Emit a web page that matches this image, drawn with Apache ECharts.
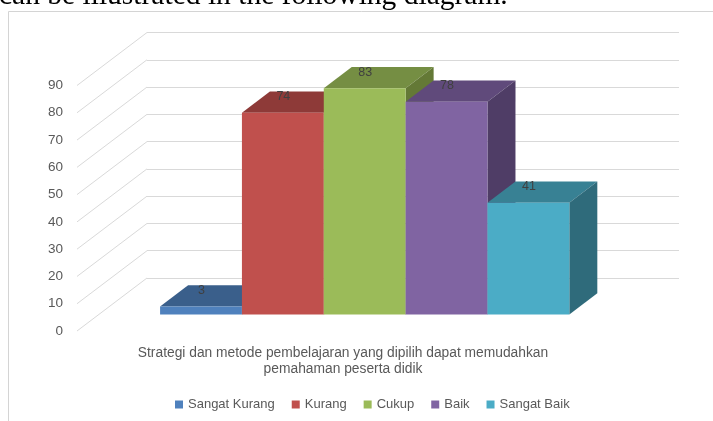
<!DOCTYPE html>
<html><head><meta charset="utf-8">
<script src="https://cdn.jsdelivr.net/npm/echarts@6/dist/echarts.min.js"></script>
<style>html,body{margin:0;padding:0;background:#fff;overflow:hidden}#c{width:713px;height:421px}</style>
</head><body><div id="c"></div>
<script>
const categories = ['Strategi dan metode pembelajaran yang dipilih dapat memudahkan\npemahaman peserta didik'];
const seriesNames = ['Sangat Kurang', 'Kurang', 'Cukup', 'Baik', 'Sangat Baik'];
const seriesValues = [3, 74, 83, 78, 41];
const yTicks = [0, 10, 20, 30, 40, 50, 60, 70, 80, 90];
const headingText = 'can be illustrated in the following diagram.';

const frontColors = ['#4F81BD', '#C0504D', '#9BBB59', '#8064A2', '#4BACC6'];
const topColors = ['#3A5F8B', '#8E3A38', '#758E43', '#604A7B', '#388194'];
const sideColors = ['#2F4E72', '#743030', '#647936', '#4F3D66', '#2F6B7B'];

const WALL_DX = 70, WALL_DY = 53;
const BAR_FRONT = 0.31, BAR_BACK = 0.71;
const GAP = 1.5;
const FONT = '"Liberation Sans", Arial, sans-serif';

function barRender(i) {
  return function (params, api) {
    const c = api.coord([0, 0]);
    const t = api.coord([0, api.value(1)]);
    const band = api.size([1, 0])[0];
    const n = seriesNames.length;
    const bw = band / (n + GAP);
    const x0 = c[0] - bw * n / 2 + i * bw + WALL_DX * BAR_FRONT;
    const x1 = x0 + bw;
    const yb = c[1] - WALL_DY * BAR_FRONT;
    const yt = t[1] - WALL_DY * BAR_FRONT;
    const dx = WALL_DX * (BAR_BACK - BAR_FRONT), dy = WALL_DY * (BAR_BACK - BAR_FRONT);
    return {
      type: 'group', children: [
        { type: 'polygon', shape: { points: [[x0, yt], [x1, yt], [x1 + dx, yt - dy], [x0 + dx, yt - dy]] }, style: { fill: topColors[i] } },
        { type: 'polygon', shape: { points: [[x1, yt], [x1 + dx, yt - dy], [x1 + dx, yb - dy], [x1, yb]] }, style: { fill: sideColors[i] } },
        { type: 'rect', shape: { x: x0, y: yt, width: bw, height: yb - yt }, style: { fill: frontColors[i] } },
        { type: 'text', x: x0 + bw / 2 + 0.5, y: yt - 16, style: { text: String(api.value(1)), fill: '#404040', font: '12.5px ' + FONT, align: 'center', verticalAlign: 'middle' } }
      ]
    };
  };
}

const series = [{
  type: 'custom', xAxisIndex: 0, yAxisIndex: 0, silent: true,
  data: yTicks.map(v => [0, v]),
  renderItem: function (params, api) {
    const p = api.coord([0, api.value(1)]);
    const x = params.coordSys.x;
    return { type: 'line', shape: { x1: x - WALL_DX, y1: p[1] + WALL_DY, x2: x, y2: p[1] }, style: { stroke: '#d9d9d9', lineWidth: 1 } };
  }
}];
seriesNames.forEach((name, i) => {
  series.push({
    name: name, type: 'custom', xAxisIndex: 1, yAxisIndex: 1,
    itemStyle: { color: frontColors[i] },
    encode: { x: 0, y: 1 },
    data: [[0, seriesValues[i]]],
    renderItem: barRender(i)
  });
});

const chart = echarts.init(document.getElementById('c'), null, { renderer: 'canvas' });
chart.setOption({
  animation: false,
  backgroundColor: '#fff',
  textStyle: { fontFamily: FONT },
  grid: [
    { left: 147, top: 32.5, width: 532, height: 245.5 },
    { left: 77, top: 85.5, width: 532, height: 245.5 }
  ],
  xAxis: [
    { type: 'category', gridIndex: 0, data: categories, show: false },
    { type: 'category', gridIndex: 1, data: categories,
      axisLine: { show: false }, axisTick: { show: false },
      axisLabel: { color: '#595959', fontSize: 13.8, lineHeight: 16, margin: 14, fontFamily: FONT } }
  ],
  yAxis: [
    { type: 'value', gridIndex: 0, min: 0, max: 90, interval: 10,
      axisLine: { show: false }, axisTick: { show: false }, axisLabel: { show: false },
      splitLine: { show: true, lineStyle: { color: '#d9d9d9', width: 1 } } },
    { type: 'value', gridIndex: 1, min: 0, max: 90, interval: 10,
      axisLine: { show: false }, axisTick: { show: false }, splitLine: { show: false },
      axisLabel: { color: '#595959', fontSize: 13.5, margin: 14, fontFamily: FONT } }
  ],
  legend: {
    data: seriesNames, left: 170, top: 393, icon: 'rect', itemWidth: 8, itemHeight: 8, itemGap: 17,
    textStyle: { color: '#595959', fontSize: 13, fontFamily: FONT }
  },
  graphic: [
    { type: 'rect', shape: { x: 8.5, y: 11.5, width: 760, height: 460 }, style: { fill: null, stroke: '#d4d4d4', lineWidth: 1 }, silent: true },
    { type: 'text', x: -1, y: -3.5, style: { text: headingText, fill: '#000', font: '29.5px "Liberation Serif", "Times New Roman", serif', verticalAlign: 'middle' }, silent: true }
  ],
  series: series
});
</script></body></html>
